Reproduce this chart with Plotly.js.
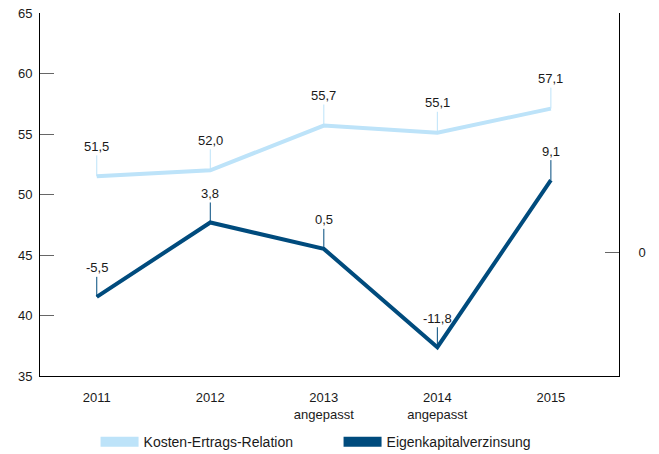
<!DOCTYPE html>
<html>
<head>
<meta charset="utf-8">
<script src="https://cdn.plot.ly/plotly-3.0.1.min.js"></script>
<style>
  body { margin: 0; background: #fff; }
  #chart { width: 659px; height: 454px; }
</style>
</head>
<body>
<div id="chart"></div>
<script>
// categories on the x axis
var years = ['2011', '2012', '2013<br>angepasst', '2014<br>angepasst', '2015'];

// Kosten-Ertrags-Relation (left axis, %)
var cir = [51.5, 52.0, 55.7, 55.1, 57.1];
// Eigenkapitalverzinsung (right axis, %)
var roe = [-5.5, 3.8, 0.5, -11.8, 9.1];

var lightBlue = '#bde3f9';
var darkBlue = '#004b7d';

// german number format for the labels
function fmt(v) {
    return v.toFixed(1).replace('.', ',');
}

var cirTrace = {
    x: years,
    y: cir,
    type: 'scatter',
    mode: 'lines',
    name: 'Kosten-Ertrags-Relation',
    line: { color: lightBlue, width: 4 },
    yaxis: 'y',
    showlegend: false
};

var roeTrace = {
    x: years,
    y: roe,
    type: 'scatter',
    mode: 'lines',
    name: 'Eigenkapitalverzinsung',
    line: { color: darkBlue, width: 4 },
    yaxis: 'y2',
    showlegend: false
};

// empty traces only for the thick legend swatches
var cirLegend = {
    x: [null], y: [null], type: 'scatter', mode: 'lines',
    name: 'Kosten-Ertrags-Relation',
    line: { color: lightBlue, width: 11 }
};
var roeLegend = {
    x: [null], y: [null], type: 'scatter', mode: 'lines',
    name: 'Eigenkapitalverzinsung',
    line: { color: darkBlue, width: 11 }
};

// value labels with a small vertical stem above each point
var annotations = [];
years.forEach(function (yr, i) {
    annotations.push({
        x: i, y: cir[i], xref: 'x', yref: 'y',
        text: fmt(cir[i]),
        showarrow: true, arrowhead: 0, arrowwidth: 1, arrowcolor: lightBlue,
        ax: 0, ay: -30, standoff: 0,
        font: { size: 13, color: '#1a1a1a' }
    });
    annotations.push({
        x: i, y: roe[i], xref: 'x', yref: 'y2',
        text: fmt(roe[i]),
        showarrow: true, arrowhead: 0, arrowwidth: 1, arrowcolor: darkBlue,
        ax: 0, ay: -29, standoff: 0,
        font: { size: 13, color: '#1a1a1a' }
    });
});

var layout = {
    width: 659,
    height: 454,
    margin: { l: 40, r: 40, t: 13, b: 78 },
    paper_bgcolor: '#fff',
    plot_bgcolor: '#fff',
    font: { family: 'Liberation Sans, Arial, sans-serif', size: 13, color: '#1a1a1a' },
    xaxis: {
        type: 'category',
        range: [-0.5, 4.6],
        showgrid: false,
        zeroline: false,
        showline: true,
        linecolor: '#000',
        linewidth: 1,
        ticks: '',
        ticklabelstandoff: 9,
        fixedrange: true
    },
    yaxis: {
        range: [35, 65],
        dtick: 5,
        showgrid: false,
        zeroline: false,
        showline: true,
        linecolor: '#000',
        linewidth: 1,
        ticks: 'inside',
        ticklen: 14,
        tickcolor: '#666',
        ticklabelstandoff: 4
    },
    yaxis2: {
        overlaying: 'y',
        side: 'right',
        range: [-15.4, 30],
        tickvals: [0, 30],
        ticktext: ['0', ''],
        showgrid: false,
        zeroline: false,
        showline: true,
        linecolor: '#000',
        linewidth: 1,
        ticks: 'inside',
        ticklen: 14,
        tickcolor: '#666',
        ticklabelstandoff: 16
    },
    legend: {
        orientation: 'h',
        xref: 'container',
        yref: 'container',
        x: 0.145,
        xanchor: 'left',
        y: 0.026,
        yanchor: 'middle',
        itemwidth: 38,
        entrywidth: 190,
        font: { size: 14 }
    },
    annotations: annotations
};

Plotly.newPlot('chart', [cirTrace, roeTrace, cirLegend, roeLegend], layout, { displayModeBar: false, staticPlot: true });
</script>
</body>
</html>
